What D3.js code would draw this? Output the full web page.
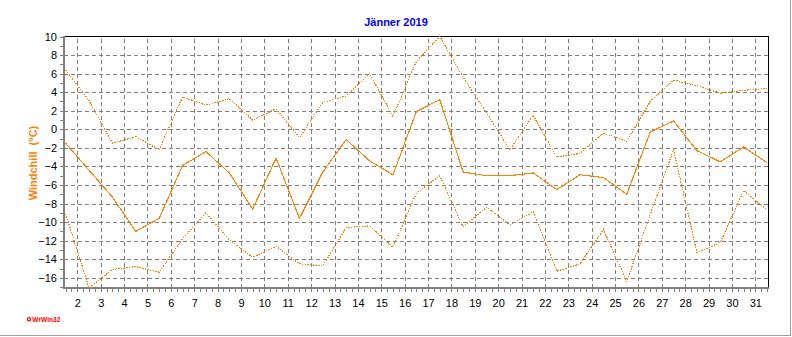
<!DOCTYPE html>
<html>
<head>
<meta charset="utf-8">
<script src="https://cdn.jsdelivr.net/npm/d3@7"></script>
<style>
  body { margin: 0; background: #fff; }
  svg { display: block; }
  text { font-family: Arial, "Liberation Sans", sans-serif; }
</style>
</head>
<body>
<svg id="chart" width="792" height="337"></svg>
<script>
// Days of January 2019; each value is plotted at noon of its day
const days = d3.range(1, 32);
// Windchill (°C): daily maximum, mean and minimum
const windchillMax  = [6.4, 3.1, -1.5, -0.8, -2.2, 3.5, 2.6, 3.3, 1.0, 2.2, -0.9, 2.9, 3.6, 6.0, 1.4, 7.3,
                       10.0, 5.6, 1.8, -2.2, 1.5, -3.0, -2.6, -0.4, -1.3, 3.0, 5.3, 4.7, 3.9, 4.2, 4.4];
const windchillMean = [-1.5, -4.4, -7.3, -11.0, -9.6, -3.9, -2.4, -4.7, -8.6, -3.1, -9.6, -4.6, -1.1, -3.4, -4.9, 1.9,
                       3.2, -4.6, -5.0, -5.0, -4.7, -6.5, -4.9, -5.2, -7.0, -0.3, 0.9, -2.3, -3.5, -1.9, -3.6];
const windchillMin  = [-9.1, -17.1, -15.1, -14.8, -15.4, -11.8, -9.0, -11.9, -13.8, -12.6, -14.5, -14.7, -10.6, -10.4, -12.7, -6.9,
                       -5.0, -10.5, -8.4, -10.3, -8.9, -15.3, -14.5, -10.8, -16.4, -9.2, -2.2, -13.3, -12.2, -6.6, -8.7];
// Axis labels
const xTickLabels = d3.range(2, 32);
const yTickLabels = d3.range(-16, 11, 2);
const titleText = "Jänner 2019";
const yTitleText = "Windchill  (°C)";

const svg = d3.select("#chart");
const plotLeft = 64, plotRight = 768, plotTop = 36.5, plotBottom = 288;
const orange = "#ff8000", grid = "#808080";

const x = d3.scaleLinear().domain([1.43, 31.54]).range([plotLeft, plotRight]);
const y = d3.scaleLinear()
  .domain(d3.extent(windchillMax.concat(windchillMean, windchillMin)))
  .range([plotBottom, plotTop]);

// outer panel edge
svg.append("line").attr("x1", 790.5).attr("x2", 790.5).attr("y1", 0).attr("y2", 336)
  .attr("stroke", "#a0a0a0").attr("stroke-width", 1);
svg.append("line").attr("x1", 0).attr("x2", 791).attr("y1", 335.5).attr("y2", 335.5)
  .attr("stroke", "#a0a0a0").attr("stroke-width", 1);

// dashed grid
const gy = svg.append("g").attr("transform", `translate(${plotLeft},0)`)
  .call(d3.axisLeft(y).tickValues(yTickLabels.filter(v => v < 10)).tickSize(-(plotRight - plotLeft)).tickFormat(""));
const gx = svg.append("g").attr("transform", `translate(0,${plotBottom})`)
  .call(d3.axisBottom(x).tickValues(xTickLabels).tickSize(-(plotBottom - plotTop)).tickFormat(""));
[gy, gx].forEach(g => {
  g.select(".domain").remove();
  g.selectAll("line").attr("stroke", grid).attr("stroke-dasharray", "4,3")
    .attr("shape-rendering", "crispEdges");
});

// minor ticks
const mx = svg.append("g").attr("transform", `translate(0,${plotBottom})`)
  .call(d3.axisBottom(x).tickValues(d3.range(1.5, 31.51, 0.25)).tickSize(4).tickFormat(""));
const my = svg.append("g").attr("transform", `translate(${plotLeft},0)`)
  .call(d3.axisLeft(y).tickValues(d3.range(-17, 11)).tickSize(4).tickFormat(""));
[mx, my].forEach(g => {
  g.select(".domain").remove();
  g.selectAll("line").attr("stroke", grid).attr("shape-rendering", "crispEdges");
});

// tick labels
const lx = svg.append("g").attr("transform", `translate(0,${plotBottom})`)
  .call(d3.axisBottom(x).tickValues(xTickLabels).tickSize(0).tickPadding(11).tickFormat(d3.format("d")));
const ly = svg.append("g").attr("transform", `translate(${plotLeft},0)`)
  .call(d3.axisLeft(y).tickValues(yTickLabels).tickSize(0).tickPadding(7).tickFormat(d3.format("d")));
[lx, ly].forEach(g => {
  g.select(".domain").remove();
  g.selectAll("text").attr("font-family", "Arial, 'Liberation Sans', sans-serif")
    .attr("font-size", 11).attr("fill", "#000");
});

// plot frame
svg.append("line").attr("x1", plotLeft).attr("x2", plotRight + 1).attr("y1", plotTop).attr("y2", plotTop)
  .attr("stroke", "#000").attr("shape-rendering", "crispEdges");
svg.append("line").attr("x1", plotRight + 0.5).attr("x2", plotRight + 0.5).attr("y1", plotTop).attr("y2", plotBottom)
  .attr("stroke", "#000").attr("shape-rendering", "crispEdges");
svg.append("line").attr("x1", plotLeft).attr("x2", plotLeft).attr("y1", plotTop - 0.5).attr("y2", plotBottom + 1)
  .attr("stroke", grid).attr("stroke-width", 2).attr("shape-rendering", "crispEdges");
svg.append("line").attr("x1", plotLeft - 1).attr("x2", plotRight + 1).attr("y1", plotBottom).attr("y2", plotBottom)
  .attr("stroke", grid).attr("stroke-width", 2).attr("shape-rendering", "crispEdges");

// series
const line = d3.line().x((d, i) => x(days[i] + 0.5)).y(d => y(d));
const series = [
  { values: windchillMax, dash: "1.5,1.2" },
  { values: windchillMean, dash: null },
  { values: windchillMin, dash: "1.5,1.2" }
];
svg.append("g").selectAll("path").data(series).join("path")
  .attr("d", d => line(d.values))
  .attr("fill", "none")
  .attr("stroke", orange)
  .attr("stroke-width", 1.1)
  .attr("stroke-dasharray", d => d.dash)
  .attr("shape-rendering", "crispEdges");

// title
svg.append("text").attr("x", 396).attr("y", 26).attr("text-anchor", "middle")
  .attr("font-size", 11).attr("font-weight", "bold").attr("fill", "#0000ff").text(titleText);

// y axis title
svg.append("text").attr("transform", "translate(36.5,163) rotate(-90)")
  .attr("text-anchor", "middle").attr("font-size", 11).attr("font-weight", "bold")
  .attr("fill", orange).style("white-space", "pre").text(yTitleText);

// program mark
svg.append("circle").attr("cx", 29).attr("cy", 319.3).attr("r", 1.6)
  .attr("fill", "#fff").attr("stroke", "#ff0000").attr("stroke-width", 1.2);
svg.append("text").attr("x", 32.3).attr("y", 322).attr("font-size", 6.6).attr("font-weight", "bold")
  .attr("fill", "#ff0000").text("WrWin32");
</script>
</body>
</html>
